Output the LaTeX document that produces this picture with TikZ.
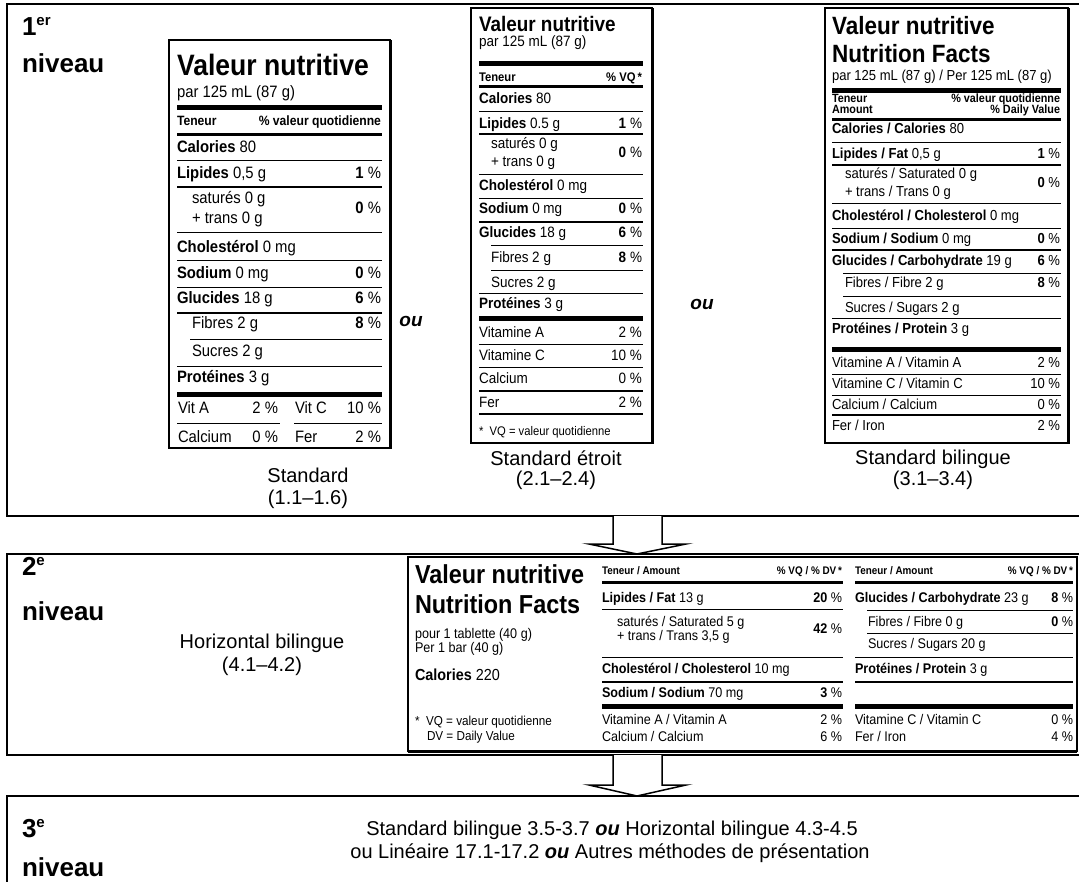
\documentclass[tikz,border=0pt]{standalone}
\usepackage{fontspec}
\newfontfamily\nf[FakeStretch=0.9]{Liberation Sans}
\newfontfamily\cf{Liberation Sans}
\begin{document}
\begin{tikzpicture}[x=1pt,y=-1pt,
  every node/.style={inner sep=0pt,outer sep=0pt},
  L/.style={anchor=base west},
  R/.style={anchor=base east},
  fz/.style={font=\nf\fontsize{#1}{#1}\selectfont},
  captext/.style={anchor=base,font=\cf\fontsize{20}{20}\selectfont},
  lev/.style={anchor=base west,font=\cf\bfseries\fontsize{26}{26}\selectfont},
  ouf/.style={anchor=base,font=\cf\bfseries\itshape\fontsize{19}{19}\selectfont},
  lvl/.style={line width=2.2pt},
  lbox/.style={line width=1.1pt},
  lshade/.style={line width=3pt},
  r1/.style={line width=0.9pt},
  r2/.style={line width=1.6pt},
  r3/.style={line width=3pt},
  r5/.style={line width=5pt},
  arr/.style={line width=1.5pt,fill=white,line join=miter}]
\useasboundingbox (0,0) rectangle (1079,881);

% ---------- level frames ----------
\draw[lvl] (1082,4) -- (7,4) -- (7,516) -- (1082,516);
\draw[lvl] (1082,554) -- (7,554) -- (7,755) -- (1082,755);
\draw[lvl] (1082,796) -- (7,796) -- (7,885);

% ---------- arrows ----------
\coordinate (p1) at (613,516); \coordinate (p2) at (613,544);
\coordinate (p3) at (589,544); \coordinate (p4) at (637,554);
\coordinate (p5) at (686,544); \coordinate (p6) at (662,544);
\coordinate (p7) at (662,516);
\draw[arr] (p1) -- (p2) -- (p3) -- (p4) -- (p5) -- (p6) -- (p7);
\coordinate (q1) at (613,755); \coordinate (q2) at (613,785);
\coordinate (q3) at (589,785); \coordinate (q4) at (637,796);
\coordinate (q5) at (686,785); \coordinate (q6) at (662,785);
\coordinate (q7) at (662,755);
\draw[arr] (q1) -- (q2) -- (q3) -- (q4) -- (q5) -- (q6) -- (q7);

% ---------- level labels ----------
\node[lev] (lv1a) at (22,35) {1\raisebox{10pt}{\fontsize{15}{15}\selectfont er}};
\node[lev] (lv1b) at (22,72) {niveau};
\node[lev] (lv2a) at (22,575) {2\raisebox{10pt}{\fontsize{15}{15}\selectfont e}};
\node[lev] (lv2b) at (22,620) {niveau};
\node[lev] (lv3a) at (22,837) {3\raisebox{10pt}{\fontsize{15}{15}\selectfont e}};
\node[lev] (lv3b) at (22,876) {niveau};

% ---------- label 1 : Standard ----------
\draw[lbox] (169,40) rectangle (390,448);
\draw[lshade] (390,40) -- (390,449);
\node[L,fz=29.5] (a1) at (177,75) {\bfseries Valeur nutritive};
\node[L,fz=16.5] (a2) at (177,97) {par 125 mL (87 g)};
\draw[r5] (177,107.5) -- (382,107.5);
\node[L,fz=13.5] (a3) at (177,125) {\bfseries Teneur};
\node[R,fz=13.5] (a4) at (381,125) {\bfseries \% valeur quotidienne};
\draw[r3] (177,134.5) -- (382,134.5);
\node[L,fz=16.5] (a5) at (177,152) {\textbf{Calories} 80};
\draw[r1] (177,160) -- (382,160);
\node[L,fz=16.5] (a6) at (177,178) {\textbf{Lipides} 0,5 g};
\node[R,fz=16.5] (a7) at (381,178) {\textbf{1} \%};
\draw[r2] (177,187) -- (382,187);
\node[L,fz=16.5] (a8) at (192,203) {saturés 0 g};
\node[L,fz=16.5] (a9) at (192,223) {+ trans 0 g};
\node[R,fz=16.5] (a10) at (381,213) {\textbf{0} \%};
\draw[r1] (177,232) -- (382,232);
\node[L,fz=16.5] (a11) at (177,252) {\textbf{Cholestérol} 0 mg};
\draw[r1] (177,260) -- (382,260);
\node[L,fz=16.5] (a12) at (177,278) {\textbf{Sodium} 0 mg};
\node[R,fz=16.5] (a13) at (381,278) {\textbf{0} \%};
\draw[r1] (177,287) -- (382,287);
\node[L,fz=16.5] (a14) at (177,303) {\textbf{Glucides} 18 g};
\node[R,fz=16.5] (a15) at (381,303) {\textbf{6} \%};
\draw[r2] (177,313) -- (382,313);
\node[L,fz=16.5] (a16) at (192,328) {Fibres 2 g};
\node[R,fz=16.5] (a17) at (381,328) {\textbf{8} \%};
\draw[r1] (190,339) -- (382,339);
\node[L,fz=16.5] (a18) at (192,356) {Sucres 2 g};
\draw[r1] (177,366) -- (382,366);
\node[L,fz=16.5] (a19) at (177,382) {\textbf{Protéines} 3 g};
\draw[r5] (177,394.5) -- (382,394.5);
\node[L,fz=16.5] (a20) at (178,413) {Vit A};
\node[R,fz=16.5] (a21) at (278,413) {2 \%};
\node[L,fz=16.5] (a22) at (295,413) {Vit C};
\node[R,fz=16.5] (a23) at (381,413) {10 \%};
\draw[r1] (177,423) -- (280,423);
\draw[r1] (294,423) -- (382,423);
\node[L,fz=16.5] (a24) at (178,442) {Calcium};
\node[R,fz=16.5] (a25) at (278,442) {0 \%};
\node[L,fz=16.5] (a26) at (295,442) {Fer};
\node[R,fz=16.5] (a27) at (381,442) {2 \%};
\node[captext] (a28) at (308,482) {Standard};
\node[captext] (a29) at (308,504) {(1.1–1.6)};
\node[ouf] (ou1) at (411,326) {ou};

% ---------- label 2 : Standard etroit ----------
\draw[lbox] (471,8) rectangle (652,443);
\draw[lshade] (652,8) -- (652,444);
\node[L,fz=21] (b1) at (479,31) {\bfseries Valeur nutritive};
\node[L,fz=15] (b2) at (479,46) {par 125 mL (87 g)};
\draw[r5] (479,63) -- (643,63);
\node[L,fz=12.5] (b3) at (479,81) {\bfseries Teneur};
\node[R,fz=12.5] (b4) at (642,81) {\bfseries \% VQ\,*};
\draw[r3] (479,86.5) -- (643,86.5);
\node[L,fz=15] (b5) at (479,103) {\textbf{Calories} 80};
\draw[r1] (479,111) -- (643,111);
\node[L,fz=15] (b6) at (479,128) {\textbf{Lipides} 0.5 g};
\node[R,fz=15] (b7) at (642,128) {\textbf{1} \%};
\draw[r2] (479,134) -- (643,134);
\node[L,fz=15] (b8) at (491,148) {saturés 0 g};
\node[L,fz=15] (b9) at (491,166) {+ trans 0 g};
\node[R,fz=15] (b10) at (642,157) {\textbf{0} \%};
\draw[r1] (479,174) -- (643,174);
\node[L,fz=15] (b11) at (479,190) {\textbf{Cholestérol} 0 mg};
\draw[r1] (479,198) -- (643,198);
\node[L,fz=15] (b12) at (479,213) {\textbf{Sodium} 0 mg};
\node[R,fz=15] (b13) at (642,213) {\textbf{0} \%};
\draw[r2] (479,222) -- (643,222);
\node[L,fz=15] (b14) at (479,237) {\textbf{Glucides} 18 g};
\node[R,fz=15] (b15) at (642,237) {\textbf{6} \%};
\draw[r1] (491,245) -- (643,245);
\node[L,fz=15] (b16) at (491,262) {Fibres 2 g};
\node[R,fz=15] (b17) at (642,262) {\textbf{8} \%};
\draw[r1] (491,270) -- (643,270);
\node[L,fz=15] (b18) at (491,287) {Sucres 2 g};
\draw[r1] (479,293) -- (643,293);
\node[L,fz=15] (b19) at (479,308) {\textbf{Protéines} 3 g};
\draw[r5] (479,318.5) -- (643,318.5);
\node[L,fz=15] (b20) at (479,337) {Vitamine A};
\node[R,fz=15] (b21) at (642,337) {2 \%};
\draw[r1] (479,344) -- (643,344);
\node[L,fz=15] (b22) at (479,360) {Vitamine C};
\node[R,fz=15] (b23) at (642,360) {10 \%};
\draw[r1] (479,367) -- (643,367);
\node[L,fz=15] (b24) at (479,383) {Calcium};
\node[R,fz=15] (b25) at (642,383) {0 \%};
\draw[r2] (479,391) -- (643,391);
\node[L,fz=15] (b26) at (479,407) {Fer};
\node[R,fz=15] (b27) at (642,407) {2 \%};
\draw[r2] (479,414) -- (643,414);
\node[L,fz=12.5] (b28) at (479,435) {*\enspace VQ = valeur quotidienne};
\node[captext] (b29) at (556,465) {Standard étroit};
\node[captext] (b30) at (556,485) {(2.1–2.4)};
\node[ouf] (ou2) at (702,309) {ou};

% ---------- label 3 : Standard bilingue ----------
\draw[lbox] (825,8) rectangle (1068,443);
\draw[lshade] (1068,8) -- (1068,444);
\node[L,fz=25] (c1) at (832,34) {\bfseries Valeur nutritive};
\node[L,fz=25] (c2) at (832,62) {\bfseries Nutrition Facts};
\node[L,fz=14.5] (c3) at (832,80) {par 125 mL (87 g) / Per 125 mL (87 g)};
\draw[r5] (832,90.5) -- (1061,90.5);
\node[L,fz=12] (c4) at (832,102) {\bfseries Teneur};
\node[R,fz=12] (c5) at (1060,102) {\bfseries \% valeur quotidienne};
\node[L,fz=12] (c6) at (832,113) {\bfseries Amount};
\node[R,fz=12] (c7) at (1060,113) {\bfseries \% Daily Value};
\draw[r3] (832,119.5) -- (1061,119.5);
\node[L,fz=14.5] (c8) at (832,133) {\textbf{Calories / Calories} 80};
\draw[r1] (832,142) -- (1061,142);
\node[L,fz=14.5] (c9) at (832,158) {\textbf{Lipides / Fat} 0,5 g};
\node[R,fz=14.5] (c10) at (1060,158) {\textbf{1} \%};
\draw[r2] (832,165) -- (1061,165);
\node[L,fz=14.5] (c11) at (845,178) {saturés / Saturated 0 g};
\node[L,fz=14.5] (c12) at (845,196) {+ trans / Trans 0 g};
\node[R,fz=14.5] (c13) at (1060,187) {\textbf{0} \%};
\draw[r1] (832,203) -- (1061,203);
\node[L,fz=14.5] (c14) at (832,220) {\textbf{Cholestérol / Cholesterol} 0 mg};
\draw[r1] (832,228) -- (1061,228);
\node[L,fz=14.5] (c15) at (832,243) {\textbf{Sodium / Sodium} 0 mg};
\node[R,fz=14.5] (c16) at (1060,243) {\textbf{0} \%};
\draw[r2] (832,250) -- (1061,250);
\node[L,fz=14.5] (c17) at (832,265) {\textbf{Glucides / Carbohydrate} 19 g};
\node[R,fz=14.5] (c18) at (1060,265) {\textbf{6} \%};
\draw[r1] (843,273) -- (1061,273);
\node[L,fz=14.5] (c19) at (845,287) {Fibres / Fibre 2 g};
\node[R,fz=14.5] (c20) at (1060,287) {\textbf{8} \%};
\draw[r1] (843,296) -- (1061,296);
\node[L,fz=14.5] (c21) at (845,312) {Sucres / Sugars 2 g};
\draw[r1] (832,318) -- (1061,318);
\node[L,fz=14.5] (c22) at (832,333) {\textbf{Protéines / Protein} 3 g};
\draw[r5] (832,349) -- (1061,349);
\node[L,fz=14.5] (c23) at (832,367) {Vitamine A / Vitamin A};
\node[R,fz=14.5] (c24) at (1060,367) {2 \%};
\draw[r1] (832,374) -- (1061,374);
\node[L,fz=14.5] (c25) at (832,388) {Vitamine C / Vitamin C};
\node[R,fz=14.5] (c26) at (1060,388) {10 \%};
\draw[r1] (832,395) -- (1061,395);
\node[L,fz=14.5] (c27) at (832,409) {Calcium / Calcium};
\node[R,fz=14.5] (c28) at (1060,409) {0 \%};
\draw[r2] (832,415) -- (1061,415);
\node[L,fz=14.5] (c29) at (832,430) {Fer / Iron};
\node[R,fz=14.5] (c30) at (1060,430) {2 \%};
\node[captext] (c31) at (933,464) {Standard bilingue};
\node[captext] (c32) at (933,485) {(3.1–3.4)};

% ---------- level 2 : horizontal bilingue ----------
\node[captext] (h0a) at (262,648) {Horizontal bilingue};
\node[captext] (h0b) at (262,671) {(4.1–4.2)};
\draw[lbox] (408,557) rectangle (1077,751);
\draw[r3] (408,751) -- (1077,751);
\node[L,fz=26] (h1) at (415,583) {\bfseries Valeur nutritive};
\node[L,fz=26] (h2) at (415,613) {\bfseries Nutrition Facts};
\node[L,fz=14] (h3) at (415,638) {pour 1 tablette (40 g)};
\node[L,fz=14] (h4) at (415,652) {Per 1 bar (40 g)};
\node[L,fz=16] (h5) at (415,680) {\textbf{Calories} 220};
\node[L,fz=13] (h6) at (415,725) {*\enspace VQ = valeur quotidienne};
\node[L,fz=13] (h7) at (427,740) {DV = Daily Value};
% middle column
\node[L,fz=11] (h8) at (602,574) {\bfseries Teneur / Amount};
\node[R,fz=11] (h9) at (842,574) {\bfseries \% VQ / \% DV\,*};
\draw[r3] (602,582) -- (843,582);
\node[L,fz=14] (h10) at (602,602) {\textbf{Lipides / Fat} 13 g};
\node[R,fz=14] (h11) at (842,602) {\textbf{20} \%};
\draw[r1] (602,609) -- (843,609);
\node[L,fz=14] (h12) at (617,626) {saturés / Saturated 5 g};
\node[L,fz=14] (h13) at (617,640) {+ trans / Trans 3,5 g};
\node[R,fz=14] (h14) at (842,633) {\textbf{42} \%};
\draw[r1] (602,657) -- (843,657);
\node[L,fz=14] (h15) at (602,673) {\textbf{Cholestérol / Cholesterol} 10 mg};
\draw[r2] (602,682) -- (843,682);
\node[L,fz=14] (h16) at (602,697) {\textbf{Sodium / Sodium} 70 mg};
\node[R,fz=14] (h17) at (842,697) {\textbf{3} \%};
\draw[r5] (602,706.5) -- (843,706.5);
\node[L,fz=14] (h18) at (602,724) {Vitamine A / Vitamin A};
\node[R,fz=14] (h19) at (842,724) {2 \%};
\node[L,fz=14] (h20) at (602,741) {Calcium / Calcium};
\node[R,fz=14] (h21) at (842,741) {6 \%};
% right column
\node[L,fz=11] (h22) at (855,574) {\bfseries Teneur / Amount};
\node[R,fz=11] (h23) at (1073,574) {\bfseries \% VQ / \% DV\,*};
\draw[r3] (855,582) -- (1073,582);
\node[L,fz=14] (h24) at (855,602) {\textbf{Glucides / Carbohydrate} 23 g};
\node[R,fz=14] (h25) at (1073,602) {\textbf{8} \%};
\draw[r1] (867,610) -- (1073,610);
\node[L,fz=14] (h26) at (868,626) {Fibres / Fibre 0 g};
\node[R,fz=14] (h27) at (1073,626) {\textbf{0} \%};
\draw[r1] (867,633) -- (1073,633);
\node[L,fz=14] (h28) at (868,648) {Sucres / Sugars 20 g};
\draw[r1] (855,657) -- (1073,657);
\node[L,fz=14] (h29) at (855,673) {\textbf{Protéines / Protein} 3 g};
\draw[r2] (855,682) -- (1073,682);
\draw[r5] (855,706.5) -- (1073,706.5);
\node[L,fz=14] (h30) at (855,724) {Vitamine C / Vitamin C};
\node[R,fz=14] (h31) at (1073,724) {0 \%};
\node[L,fz=14] (h32) at (855,741) {Fer / Iron};
\node[R,fz=14] (h33) at (1073,741) {4 \%};

% ---------- level 3 text ----------
\node[captext] (t3a) at (612,835) {Standard bilingue 3.5-3.7 \textbf{\textit{ou}} Horizontal bilingue 4.3-4.5};
\node[captext] (t3b) at (610,858) {ou Linéaire 17.1-17.2 \textbf{\textit{ou}} Autres méthodes de présentation};
\end{tikzpicture}
\end{document}
